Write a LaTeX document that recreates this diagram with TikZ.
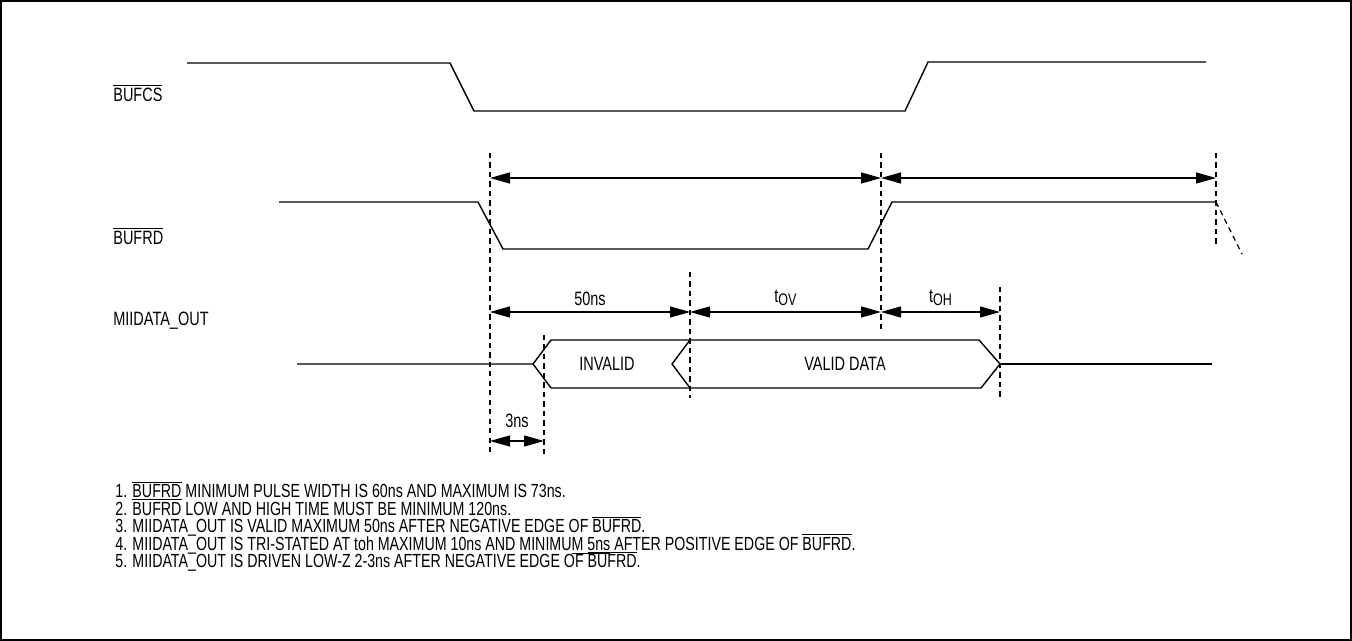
\documentclass[tikz,border=0pt]{standalone}
\usepackage{fontspec}
\setmainfont{Liberation Sans}[FakeStretch=0.75]
\usetikzlibrary{arrows.meta}

\newcommand{\ovl}[1]{$\overline{\mbox{#1}}$}
\newcommand{\tsub}[1]{t\raisebox{-1.3pt}{\fontsize{9.5}{10}\selectfont #1}}

\tikzset{
  sig/.style={line width=0.8pt},
  guide/.style={line width=0.7pt, dash pattern=on 3pt off 2.4pt},
  dim/.style={line width=0.7pt, {Triangle[length=4mm,width=2.2mm]}-{Triangle[length=4mm,width=2.2mm]}},
  lbl/.style={font=\fontsize{11}{12}\selectfont, inner sep=0pt},
  note/.style={font=\fontsize{10.8}{12}\selectfont, inner sep=0pt, anchor=west, text height=7pt, text depth=1.5pt},
}

\begin{document}
\begin{tikzpicture}[x=0.02cm,y=-0.02cm]
\useasboundingbox (0,0) rectangle (1352,641);
\draw[line width=0.8pt] (1,1) rectangle (1351,640);

% signal names
\node[lbl,anchor=west] (csname) at (113,93) {\ovl{BUFCS}};
\node[lbl,anchor=west] (rdname) at (113,236) {\ovl{BUFRD}};
\node[lbl,anchor=west] (outname) at (113,321) {MIIDATA\_OUT};

% waveforms
\draw[sig] (187,63) -- (450,63) -- (474,111) -- (905,111) -- (928,62) -- (1206,62);
\draw[sig] (279,202) -- (478,202) -- (503,249) -- (868,249) -- (892,202) -- (1216,202);
\draw[guide] (1216,202) -- (1242,254);
\draw[sig] (297,364) -- (533,364) -- (551,340) -- (690,340);
\draw[sig] (533,364) -- (551,388) -- (690,388);
\draw[sig] (690,340) -- (672,364) -- (690,388);
\draw[sig] (690,340) -- (979,340) -- (1000,364) -- (981,388) -- (690,388);
\draw[sig] (1000,364) -- (1212,364);
\node[lbl] (invalid) at (607,364) {INVALID};
\node[lbl] (valid) at (845,364) {VALID DATA};

% edges
\coordinate (e1top) at (490,153); \coordinate (e1bot) at (490,456);
\coordinate (e2top) at (544,335); \coordinate (e2bot) at (544,456);
\coordinate (e3top) at (690,272); \coordinate (e3bot) at (690,398);
\coordinate (e4top) at (881,153); \coordinate (e4bot) at (881,331);
\coordinate (e5top) at (1000,287); \coordinate (e5bot) at (1000,400);
\coordinate (e6top) at (1216,153); \coordinate (e6bot) at (1216,246);
\foreach \e in {1,...,6}
  \draw[guide] (e\e top) -- (e\e bot);

% dimension rows
\coordinate (row1) at (0,178);
\coordinate (row2) at (0,312);
\coordinate (row3) at (0,441);
\draw[dim] (e1top |- row1) -- (e4top |- row1);
\draw[dim] (e4top |- row1) -- (e6top |- row1);
\draw[dim] (e1top |- row2) -- (e3top |- row2) node[lbl,midway,above=3.5pt] (t50) {50ns};
\draw[dim] (e3top |- row2) -- (e4top |- row2) node[lbl,midway,above=3.5pt] (tov) {\tsub{OV}};
\draw[dim] (e4top |- row2) -- (e5top |- row2) node[lbl,midway,above=3.5pt] (toh) {\tsub{OH}};
\draw[dim] (e1top |- row3) -- (e2top |- row3) node[lbl,midway,above=7pt] (t3) {3ns};

% notes
\node[note] (n1) at (115,493) {1. \ovl{BUFRD} MINIMUM PULSE WIDTH IS 60ns AND MAXIMUM IS 73ns.};
\node[note] (n2) at (115,510.5) {2. \ovl{BUFRD} LOW AND HIGH TIME MUST BE MINIMUM 120ns.};
\node[note] (n3) at (115,528) {3. MIIDATA\_OUT IS VALID MAXIMUM 50ns AFTER NEGATIVE EDGE OF \ovl{BUFRD}.};
\node[note] (n4) at (115,545.5) {4. MIIDATA\_OUT IS TRI-STATED AT toh MAXIMUM 10ns AND MINIMU\underline{M 5ns}\ AFTER POSITIVE EDGE OF \ovl{BUFRD}.};
\node[note] (n5) at (115,563) {5. MIIDATA\_OUT IS DRIVEN LOW-Z 2-3ns AFTER NEGATIVE EDGE OF \ovl{BUFRD}.};

\end{tikzpicture}
\end{document}
